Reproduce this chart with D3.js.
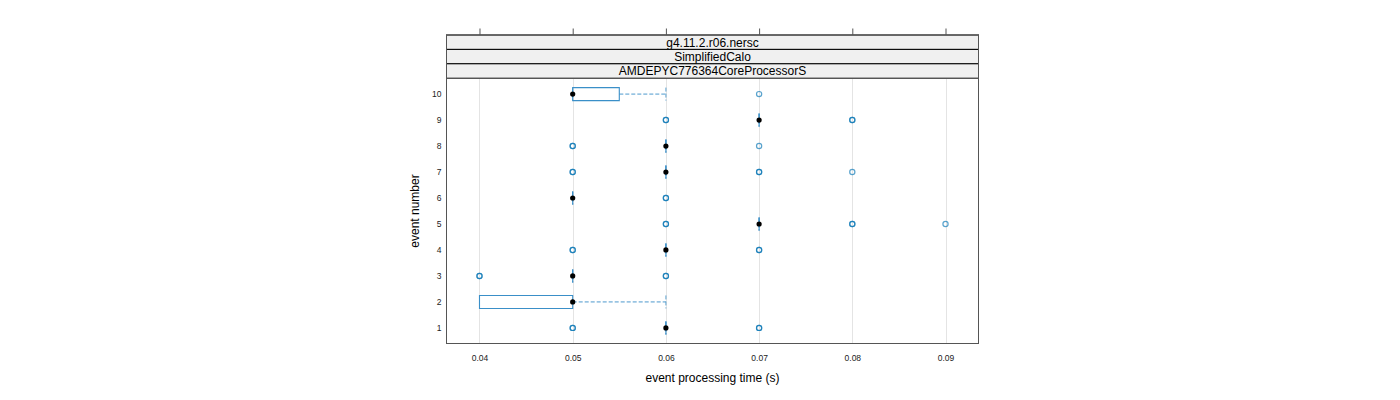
<!DOCTYPE html>
<html>
<head>
<meta charset="utf-8">
<script src="https://cdn.jsdelivr.net/npm/d3@7"></script>
<style>
  html, body { margin: 0; padding: 0; background: #fff; }
  text { font-family: "Liberation Sans", Arial, Helvetica, sans-serif; }
</style>
</head>
<body>
<svg id="chart" width="1400" height="400"></svg>
<script>
// ---- data ----
const events = [1, 2, 3, 4, 5, 6, 7, 8, 9, 10];
const medians = [0.06, 0.05, 0.05, 0.06, 0.07, 0.05, 0.06, 0.06, 0.07, 0.05];
const q1 = [0.06, 0.04, 0.05, 0.06, 0.07, 0.05, 0.06, 0.06, 0.07, 0.05];
const q3 = [0.06, 0.05, 0.05, 0.06, 0.07, 0.05, 0.06, 0.06, 0.07, 0.055];
const whiskerLow = [0.06, 0.04, 0.05, 0.06, 0.07, 0.05, 0.06, 0.06, 0.07, 0.05];
const whiskerHigh = [0.06, 0.06, 0.05, 0.06, 0.07, 0.05, 0.06, 0.06, 0.07, 0.06];
// outliers: event, value, number of coinciding points
const outlierEvent = [1, 1, 3, 3, 4, 4, 5, 5, 5, 6, 7, 7, 7, 8, 8, 9, 9, 10];
const outlierValue = [0.05, 0.07, 0.04, 0.06, 0.05, 0.07, 0.06, 0.08, 0.09, 0.06, 0.05, 0.07, 0.08, 0.05, 0.07, 0.06, 0.08, 0.07];
const outlierCount = [2, 2, 2, 2, 2, 2, 2, 2, 1, 2, 2, 2, 1, 2, 1, 2, 2, 1];
const xTicks = [0.04, 0.05, 0.06, 0.07, 0.08, 0.09];
const stripLabels = ["g4.11.2.r06.nersc", "SimplifiedCalo", "AMDEPYC776364CoreProcessorS"];
const xLabel = "event processing time (s)";
const yLabel = "event number";

// ---- layout ----
const svg = d3.select("#chart");
const L = 446.5, R = 978.5, stripTop = 35, stripH = 14.4, T = 78.5, B = 343.5;

const x = d3.scaleLinear().domain([0.03646, 0.09354]).range([L, R]);
const y = d3.scaleLinear().domain([0.4, 10.6]).range([B, T]);

const blue = "#0072b2";
const boxBlue = "#3a8fc8";
const half = 6.5;

// gridlines
svg.append("g").selectAll("line").data(xTicks).join("line")
  .attr("x1", d => Math.round(x(d)) + 0.5).attr("x2", d => Math.round(x(d)) + 0.5)
  .attr("y1", T).attr("y2", B)
  .attr("stroke", "#e4e4e4").attr("stroke-width", 1);

// top axis ticks
const topAxis = d3.axisTop(x).tickValues(xTicks).tickSize(6).tickFormat("");
const gt = svg.append("g").attr("transform", `translate(0,${stripTop - 0.5})`).call(topAxis);
gt.select(".domain").remove();
gt.selectAll(".tick line").attr("stroke", "#555");

// bottom tick labels
const botAxis = d3.axisBottom(x).tickValues(xTicks).tickSize(0).tickPadding(11).tickFormat(d3.format(".2f"));
const gb = svg.append("g").attr("transform", `translate(0,${B})`).call(botAxis);
gb.select(".domain").remove();
gb.selectAll("text").attr("font-size", 8.5).attr("fill", "#222")
  .style("font-family", "'Liberation Sans', Arial, sans-serif");

// left tick labels
const leftAxis = d3.axisLeft(y).tickValues(events).tickSize(0).tickPadding(5).tickFormat(d3.format("d"));
const gl = svg.append("g").attr("transform", `translate(${L},0)`).call(leftAxis);
gl.select(".domain").remove();
gl.selectAll("text").attr("font-size", 8.5).attr("fill", "#222")
  .style("font-family", "'Liberation Sans', Arial, sans-serif");

// strips
stripLabels.forEach((s, i) => {
  const y0 = stripTop + i * stripH;
  svg.append("rect").attr("x", L).attr("y", y0).attr("width", R - L).attr("height", stripH)
    .attr("fill", "#f0f0f0").attr("stroke", "#000").attr("stroke-width", 1);
  svg.append("text").attr("x", (L + R) / 2).attr("y", y0 + stripH / 2 + 4.3)
    .attr("text-anchor", "middle").attr("font-size", 12).attr("fill", "#000").text(s);
});

// panel border
svg.append("rect").attr("x", L).attr("y", T).attr("width", R - L).attr("height", B - T)
  .attr("fill", "none").attr("stroke", "#555").attr("stroke-width", 1);
svg.append("rect").attr("x", L).attr("y", stripTop).attr("width", R - L).attr("height", B - stripTop)
  .attr("fill", "none").attr("stroke", "#555").attr("stroke-width", 1);

// boxes
const g = svg.append("g");
const rows = events.map((e, i) => ({ e, med: medians[i], q1: q1[i], q3: q3[i], lo: whiskerLow[i], hi: whiskerHigh[i] }));

rows.forEach(r => {
  const yc = y(r.e);
  if (r.hi > r.q3) {
    g.append("line").attr("x1", x(r.q3)).attr("x2", x(r.hi)).attr("y1", yc).attr("y2", yc)
      .attr("stroke", boxBlue).attr("stroke-dasharray", "4,2").attr("opacity", 0.9);
  }
  if (r.lo < r.q1) {
    g.append("line").attr("x1", x(r.lo)).attr("x2", x(r.q1)).attr("y1", yc).attr("y2", yc)
      .attr("stroke", boxBlue).attr("stroke-dasharray", "4,2").attr("opacity", 0.9);
  }
  // caps
  [r.lo, r.hi].forEach(v => {
    g.append("line").attr("x1", x(v)).attr("x2", x(v)).attr("y1", yc - half).attr("y2", yc + half)
      .attr("stroke", boxBlue).attr("stroke-dasharray", "4,2").attr("opacity", 0.8);
  });
  // box (as path so that zero-width boxes still draw)
  const x0 = x(r.q1), x1 = x(r.q3);
  g.append("path")
    .attr("d", `M${x0},${yc - half}H${x1}V${yc + half}H${x0}Z`)
    .attr("fill", "none").attr("stroke", boxBlue).attr("stroke-width", 1.1);
});

// outliers
outlierValue.forEach((v, i) => {
  for (let k = 0; k < outlierCount[i]; k++) {
    g.append("circle").attr("cx", x(v)).attr("cy", y(outlierEvent[i])).attr("r", 2.6)
      .attr("fill", "none").attr("stroke", blue).attr("stroke-width", 1.2).attr("opacity", 0.65);
  }
});

// median dots
g.selectAll("circle.med").data(rows).join("circle").attr("class", "med")
  .attr("cx", d => x(d.med)).attr("cy", d => y(d.e)).attr("r", 2.6).attr("fill", "#000");

// axis titles
svg.append("text").attr("x", (L + R) / 2).attr("y", 382).attr("text-anchor", "middle")
  .attr("font-size", 12).attr("fill", "#000").text(xLabel);
svg.append("text").attr("transform", `translate(419,${(T + B) / 2}) rotate(-90)`)
  .attr("text-anchor", "middle").attr("font-size", 12).attr("fill", "#000").text(yLabel);
</script>
</body>
</html>
